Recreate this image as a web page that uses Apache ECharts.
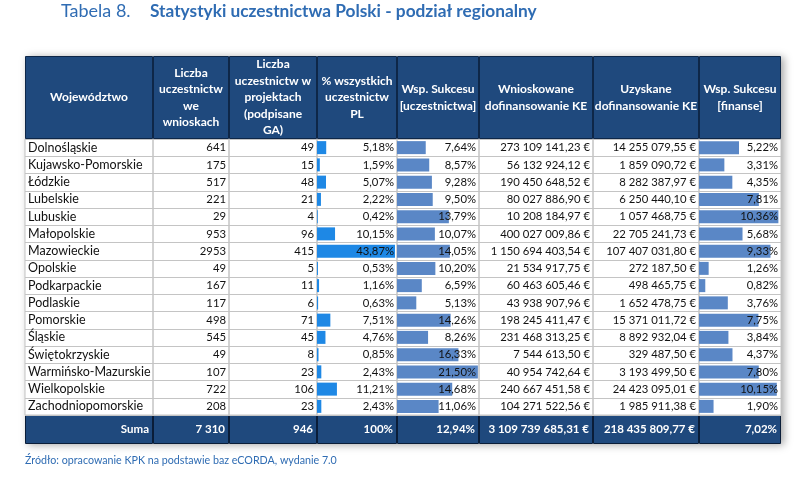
<!DOCTYPE html>
<html><head><meta charset="utf-8">
<script src="https://cdn.jsdelivr.net/npm/echarts@6/dist/echarts.min.js"></script>
<style>html,body{margin:0;padding:0;background:#fff}#c{width:810px;height:482px}</style>
</head><body><div id="c"></div>
<script>
// ---- data ----
const regions = ['Dolnośląskie','Kujawsko-Pomorskie','Łódzkie','Lubelskie','Lubuskie','Małopolskie','Mazowieckie','Opolskie','Podkarpackie','Podlaskie','Pomorskie','Śląskie','Świętokrzyskie','Warmińsko-Mazurskie','Wielkopolskie','Zachodniopomorskie'];
const wnioski = [641,175,517,221,29,953,2953,49,167,117,498,545,49,107,722,208];
const projekty = [49,15,48,21,4,96,415,5,11,6,71,45,8,23,106,23];
const pctPL = [5.18,1.59,5.07,2.22,0.42,10.15,43.87,0.53,1.16,0.63,7.51,4.76,0.85,2.43,11.21,2.43];
const wspUcz = [7.64,8.57,9.28,9.50,13.79,10.07,14.05,10.20,6.59,5.13,14.26,8.26,16.33,21.50,14.68,11.06];
const wnioskowane = [273109141.23,56132924.12,190450648.52,80027886.90,10208184.97,400027009.86,1150694403.54,21534917.75,60463605.46,43938907.96,198245411.47,231468313.25,7544613.50,40954742.64,240667451.58,104271522.56];
const uzyskane = [14255079.55,1859090.72,8282387.97,6250440.10,1057468.75,22705241.73,107407031.80,272187.50,498465.75,1652478.75,15371011.72,8892932.04,329487.50,3193499.50,24423095.01,1985911.38];
const wspFin = [5.22,3.31,4.35,7.81,10.36,5.68,9.33,1.26,0.82,3.76,7.75,3.84,4.37,7.80,10.15,1.90];
const headers = ['Województwo','Liczba\nuczestnictw\nwe\nwnioskach','Liczba\nuczestnictw w\nprojektach\n(podpisane\nGA)','% wszystkich\nuczestnictw\nPL','Wsp. Sukcesu\n[uczestnictwa]','Wnioskowane\ndofinansowanie KE','Uzyskane\ndofinansowanie KE','Wsp. Sukcesu\n[finanse]'];
const sumRow = ['Suma','7 310','946','100%','12,94%','3 109 739 685,31 €','218 435 809,77 €','7,02%'];
const titleLabel = 'Tabela 8.';
const titleText = 'Statystyki uczestnictwa Polski - podział regionalny';
const sourceText = 'Źródło: opracowanie KPK na podstawie baz eCORDA, wydanie 7.0';

// ---- layout ----
const colLeft = [25,153,229,317,397,479,593,699];
const colWidth = [128,76,88,80,82,114,106,82];
const headTop = 56, headH = 83, bodyTop = 139, bodyH = 276, sumTop = 415, sumH = 29;
const NAVY = '#1F497D', NAVY_LINE = '#0E2748', GRID_LINE = '#C4C4C4';
const FONT = 'Lato';

function pct(v){ return v.toFixed(2).replace('.', ',') + '%'; }
function eur(v){ const p = v.toFixed(2).split('.'); return p[0].replace(/\B(?=(\d{3})+(?!\d))/g, ' ') + ',' + p[1] + ' €'; }

const cols = [
  {vals: regions, fmt: s => s, left: true, size: 12.5},
  {vals: wnioski, fmt: String},
  {vals: projekty, fmt: String},
  {vals: pctPL, fmt: pct, bar: '#1E88E5', max: 45},
  {vals: wspUcz, fmt: pct, bar: '#5A87C6', max: 21.8},
  {vals: wnioskowane, fmt: eur},
  {vals: uzyskane, fmt: eur},
  {vals: wspFin, fmt: pct, bar: '#5A87C6', max: 10.7}
];

const grid = [{left: 25, top: headTop, width: 756, height: headH + bodyH + sumH, show: true,
  backgroundColor: '#fff', borderWidth: 0, shadowBlur: 8, shadowColor: 'rgba(0,0,0,0.35)', shadowOffsetX: 3, shadowOffsetY: 1}];
const xAxis = [], yAxis = [], series = [];

cols.forEach((c, i) => {
  // header cell
  let g = grid.length;
  grid.push({left: colLeft[i], top: headTop, width: colWidth[i], height: headH, outerBoundsMode: 'none'});
  xAxis.push({type: 'value', gridIndex: g, min: 0, max: 1, show: false});
  yAxis.push({type: 'category', gridIndex: g, data: ['h'], show: false});
  series.push({type: 'bar', xAxisIndex: xAxis.length - 1, yAxisIndex: yAxis.length - 1, data: [1], barWidth: '100%', silent: true,
    itemStyle: {color: NAVY, borderColor: NAVY_LINE, borderWidth: 1},
    label: {show: true, position: 'inside', formatter: () => headers[i], color: '#fff', fontFamily: FONT,
      fontWeight: 'bold', fontSize: 12, lineHeight: 16.5, align: 'center'}});

  // body cells
  g = grid.length;
  grid.push({left: colLeft[i], top: bodyTop, width: colWidth[i], height: bodyH, outerBoundsMode: 'none',
    show: true, borderColor: GRID_LINE, borderWidth: 1, backgroundColor: 'transparent'});
  xAxis.push({type: 'value', gridIndex: g, min: 0, max: c.max || 1, show: false});
  yAxis.push({type: 'category', gridIndex: g, data: regions, inverse: true, z: 5,
    position: c.left ? 'left' : 'right',
    axisLine: {show: false}, axisTick: {show: false},
    splitLine: {show: true, lineStyle: {color: GRID_LINE, width: 1}},
    axisLabel: {inside: true, interval: 0, margin: 3, color: '#111', fontFamily: FONT, fontSize: c.size || 11.3,
      formatter: (v, idx) => c.fmt(c.vals[idx])}});
  if (c.bar) {
    series.push({type: 'bar', xAxisIndex: xAxis.length - 1, yAxisIndex: yAxis.length - 1, data: c.vals,
      barWidth: 13, silent: true, itemStyle: {color: c.bar}});
  }

  // sum cell
  g = grid.length;
  grid.push({left: colLeft[i], top: sumTop, width: colWidth[i], height: sumH, outerBoundsMode: 'none'});
  xAxis.push({type: 'value', gridIndex: g, min: 0, max: 1, show: false});
  yAxis.push({type: 'category', gridIndex: g, data: ['s'], show: false});
  series.push({type: 'bar', xAxisIndex: xAxis.length - 1, yAxisIndex: yAxis.length - 1, data: [1], barWidth: '100%', silent: true,
    itemStyle: {color: NAVY, borderColor: '#0A1D38', borderWidth: 1},
    label: {show: true, position: 'insideRight', distance: 4, formatter: () => sumRow[i], color: '#fff', fontFamily: FONT,
      fontWeight: 'bold', fontSize: 11.5}});
});

const chart = echarts.init(document.getElementById('c'), null, {renderer: 'canvas'});
chart.setOption({
  animation: false,
  backgroundColor: '#fff',
  textStyle: {fontFamily: FONT},
  title: [
    {text: titleLabel, left: 61, top: 2, padding: 0, textStyle: {fontFamily: FONT, fontSize: 18, fontWeight: 'normal', color: '#2F6CB3'}},
    {text: titleText, left: 150, top: 3, padding: 0, textStyle: {fontFamily: FONT, fontSize: 17.3, fontWeight: 'bold', color: '#2F6CB3'}},
    {text: sourceText, left: 25, top: 455, padding: 0, textStyle: {fontFamily: FONT, fontSize: 10.7, fontWeight: 'normal', color: '#2F6CB3'}}
  ],
  grid, xAxis, yAxis, series
});
</script></body></html>
